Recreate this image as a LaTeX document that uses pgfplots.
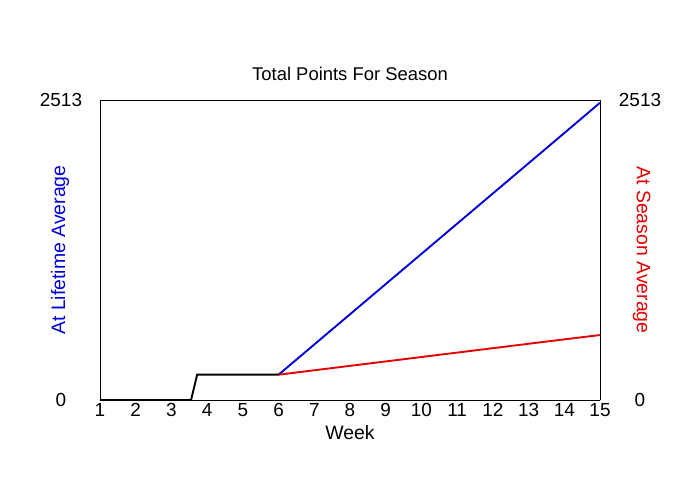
\documentclass[border=0pt]{standalone}
\usepackage{pgfplots}
\pgfplotsset{compat=1.18}
\usepackage{fontspec}
\setmainfont{Liberation Sans}
\definecolor{lifeblue}{RGB}{0,0,215}
\definecolor{seasonred}{RGB}{228,0,0}
\begin{document}
\begin{tikzpicture}
\useasboundingbox (-100bp,-100bp) rectangle (600bp,400bp);
\pgfplotsset{
  every axis/.append style={
    scale only axis,
    width=500bp, height=300bp,
    xmin=1, xmax=15, ymin=0, ymax=2513,
    major tick length=0pt,
    /pgf/number format/assume math mode=true,
    ticklabel style={font=\fontsize{19}{19}\selectfont},
    label style={font=\fontsize{19.5}{19.5}\selectfont},
  }
}
\begin{axis}[
  axis y line*=left,
  axis x line*=bottom,
  xtick={1,...,15},
  ytick={0,2513},
  yticklabel style={anchor=center, xshift=-39bp},
  xticklabel style={anchor=north, yshift=0bp},
  xlabel={Week},
  xlabel style={yshift=-2bp},
  ylabel={At Lifetime Average},
  ylabel style={text=lifeblue, yshift=-36bp},
  title={Total Points For Season},
  title style={font=\fontsize{18.5}{18.5}\selectfont, yshift=10bp},
  /pgf/number format/.cd, 1000 sep={},
]
\addplot[lifeblue, line width=1.9pt] coordinates {
(6,212) (7,465) (8,718) (9,971) (10,1224) (11,1477) (12,1730) (13,1983) (14,2236) (15,2490)};
\addplot[seasonred, line width=1.9pt] coordinates {
(6,212) (7,249) (8,286) (9,323) (10,360) (11,397) (12,434) (13,471) (14,508) (15,544)};
\addplot[black, line width=1.9pt] coordinates {
(1,0) (2,0) (3,0) (3.55,0) (3.72,212) (4,212) (5,212) (6,212)};
\draw[black, line width=0.8pt] (rel axis cs:0,0) rectangle (rel axis cs:1,1);
\end{axis}
\begin{axis}[
  axis y line*=right,
  hide x axis,
  ytick={0,2513},
  yticklabel style={anchor=center, xshift=40bp},
  ylabel={At Season Average},
  ylabel style={text=seasonred, rotate=180, yshift=-35bp},
  /pgf/number format/.cd, 1000 sep={},
]
\end{axis}
\end{tikzpicture}
\end{document}
